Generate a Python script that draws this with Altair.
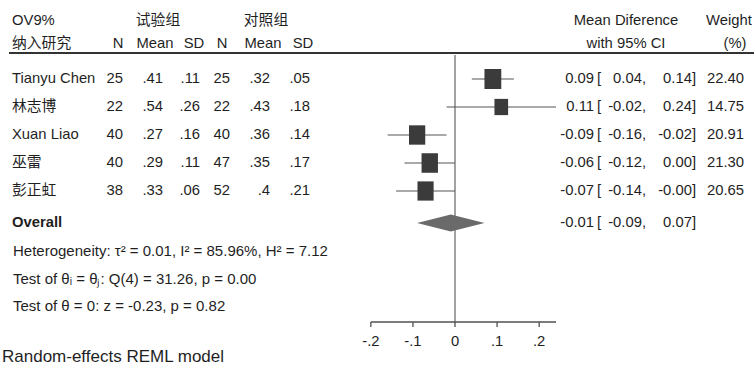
import altair as alt
import pandas as pd

# ---------------- data ----------------
studies = ["Tianyu Chen", "林志博", "Xuan Liao", "巫雷", "彭正虹"]
n_trt = [25, 22, 40, 40, 38]
mean_trt = [0.41, 0.54, 0.27, 0.29, 0.33]
sd_trt = [0.11, 0.26, 0.16, 0.11, 0.06]
n_ctl = [25, 22, 40, 47, 52]
mean_ctl = [0.32, 0.43, 0.36, 0.35, 0.4]
sd_ctl = [0.05, 0.18, 0.14, 0.17, 0.21]
md = [0.09, 0.11, -0.09, -0.06, -0.07]
ci_lo = [0.04, -0.02, -0.16, -0.12, -0.14]
ci_hi = [0.14, 0.24, -0.02, 0.00, -0.0]
weights = [22.40, 14.75, 20.91, 21.30, 20.65]
overall = {"md": -0.01, "lo": -0.09, "hi": 0.07}
ticks = [-0.2, -0.1, 0, 0.1, 0.2]
tick_labels = ["-.2", "-.1", "0", ".1", ".2"]
stats_lines = [
    "Heterogeneity: τ² = 0.01, I² = 85.96%, H² = 7.12",
    "Test of θᵢ = θⱼ: Q(4) = 31.26, p = 0.00",
    "Test of θ = 0: z = -0.23, p = 0.82",
]
note = "Random-effects REML model"

# ---------------- layout ----------------
W, H = 754, 376
PX0, PXU = 455.0, 420.75          # pixel of 0 and pixels per unit
RY0, RYU = 51.0, 28.0             # pixel of row 0 and pixels per row
xdom = [(0 - PX0) / PXU, (W - PX0) / PXU]
ydom = [(0 - RY0) / RYU, (H - RY0) / RYU]
def row_of(px):
    return (px - RY0) / RYU

FONT = "Liberation Sans, Arial, Noto Sans CJK SC"
TXT = "#1f1f1f"
FS = 14.8

xs = alt.Scale(domain=xdom, range=[0, W], nice=False, zero=False)
ys = alt.Scale(domain=ydom, range=[0, H], nice=False, zero=False)

def fmt_s(v):
    s = str(v)
    return s[1:] if s.startswith("0.") else s

rows = list(range(1, len(studies) + 1))
df = pd.DataFrame({
    "row": rows,
    "study": studies,
    "n1": [str(v) for v in n_trt],
    "m1": [fmt_s(v) for v in mean_trt],
    "s1": [fmt_s(v) for v in sd_trt],
    "n2": [str(v) for v in n_ctl],
    "m2": [fmt_s(v) for v in mean_ctl],
    "s2": [fmt_s(v) for v in sd_ctl],
    "md": md,
    "lo": ci_lo,
    "hi": ci_hi,
    "w": weights,
    "est_t": [f"{v:.2f}" for v in md],
    "lo_t": [f"{v:.2f}," for v in ci_lo],
    "hi_t": [f"{v:.2f}]" for v in ci_hi],
    "w_t": [f"{v:.2f}" for v in weights],
})

ov_row = row_of(223)
ov_df = pd.DataFrame({
    "row": [ov_row],
    "label": ["Overall"],
    "est_t": [f"{overall['md']:.2f}"],
    "lo_t": [f"{overall['lo']:.2f},"],
    "hi_t": [f"{overall['hi']:.2f}]"],
})

def text_layer(data, field, x, align, row_field="row", fs=FS, weight="normal", font=FONT):
    return alt.Chart(data).mark_text(
        align=align, baseline="middle", font=font, fontSize=fs,
        fontWeight=weight, color=TXT
    ).encode(
        x=alt.value(x),
        y=alt.Y(f"{row_field}:Q", scale=ys, axis=None),
        text=f"{field}:N",
    )

layers = []

# header
hdr = [
    (row_of(21), "OV9%", 12, "left"),
    (row_of(21), "试验组", 158, "center"),
    (row_of(21), "对照组", 266, "center"),
    (row_of(21), "Mean Diference", 626, "center"),
    (row_of(21), "Weight", 729, "center"),
    (row_of(44), "纳入研究", 12, "left"),
    (row_of(44), "N", 118, "center"),
    (row_of(44), "Mean", 155, "center"),
    (row_of(44), "SD", 194, "center"),
    (row_of(44), "N", 222, "center"),
    (row_of(44), "Mean", 263, "center"),
    (row_of(44), "SD", 303, "center"),
    (row_of(44), "with 95% CI", 626, "center"),
    (row_of(44), "(%)", 735, "center"),
]
for r, t, x, a in hdr:
    layers.append(text_layer(pd.DataFrame({"row": [r], "t": [t]}), "t", x, a))

layers.append(alt.Chart(pd.DataFrame({"a": [0]})).mark_rule(color="#333333", strokeWidth=2).encode(
    x=alt.value(9), x2=alt.value(W), y=alt.value(53)))

# zero line
layers.append(alt.Chart(pd.DataFrame({"v": [0]})).mark_rule(color="#707070", strokeWidth=1.3).encode(
    x=alt.X("v:Q", scale=xs, axis=None), y=alt.value(55), y2=alt.value(322)))

# axis line
ax_lo = min(min(ticks), min(ci_lo))
ax_hi = max(max(ticks), max(ci_hi))
layers.append(alt.Chart(pd.DataFrame({"a": [ax_lo], "b": [ax_hi]})).mark_rule(color="#505050", strokeWidth=1.3).encode(
    x=alt.X("a:Q", scale=xs, axis=None), x2="b:Q", y=alt.value(322)))
tdf = pd.DataFrame({"v": ticks, "lab": tick_labels})
layers.append(alt.Chart(tdf).mark_rule(color="#505050", strokeWidth=1.3).encode(
    x=alt.X("v:Q", scale=xs, axis=None), y=alt.value(322), y2=alt.value(327)))
layers.append(alt.Chart(tdf).mark_text(font=FONT, fontSize=FS, color=TXT, baseline="middle").encode(
    x=alt.X("v:Q", scale=xs, axis=None), y=alt.value(342), text="lab:N"))

# CI lines
layers.append(alt.Chart(df).mark_rule(color="#555555", strokeWidth=1.2).encode(
    x=alt.X("lo:Q", scale=xs, axis=None), x2="hi:Q",
    y=alt.Y("row:Q", scale=ys, axis=None)))
# squares (slightly taller than wide, as in the reference)
box = "M-0.84,-1L0.84,-1L0.84,1L-0.84,1Z"
layers.append(alt.Chart(df).mark_point(shape=box, filled=True, opacity=1, color="#3b3b3b").encode(
    x=alt.X("md:Q", scale=xs, axis=None),
    y=alt.Y("row:Q", scale=ys, axis=None),
    size=alt.Size("w:Q", scale=alt.Scale(domain=[0, 25], range=[0, 25 * 17.9]), legend=None)))

# diamond
hh = 8.5 / RYU
dia = pd.DataFrame({
    "x": [overall["lo"], overall["md"], overall["hi"]],
    "y": [ov_row, ov_row - hh, ov_row],
    "y2": [ov_row, ov_row + hh, ov_row],
})
layers.append(alt.Chart(dia).mark_area(color="#6a6a6a", opacity=1).encode(
    x=alt.X("x:Q", scale=xs, axis=None),
    y=alt.Y("y:Q", scale=ys, axis=None), y2="y2:Q"))

# study table text
layers.append(text_layer(df, "study", 12, "left"))
for f, xx in [("n1", 123), ("m1", 163), ("s1", 200), ("n2", 230), ("m2", 270), ("s2", 310)]:
    layers.append(text_layer(df, f, xx, "right"))
for d in (df, ov_df):
    layers.append(text_layer(d, "est_t", 594, "right"))
    layers.append(text_layer(d.assign(b="["), "b", 597, "left"))
    layers.append(text_layer(d, "lo_t", 646, "right"))
    layers.append(text_layer(d, "hi_t", 696, "right"))
layers.append(text_layer(df, "w_t", 744, "right"))
layers.append(text_layer(ov_df, "label", 12, "left", weight="bold"))

# stats lines
st = pd.DataFrame({"row": [row_of(251), row_of(279), row_of(306)], "t": stats_lines})
layers.append(text_layer(st, "t", 13, "left", fs=15))
layers.append(text_layer(pd.DataFrame({"row": [row_of(357)], "t": [note]}), "t", 2, "left", fs=17))

chart = alt.layer(*layers).properties(
    width=W, height=H, padding=0, autosize=alt.AutoSizeParams(type="none"),
    background="white"
).configure_view(stroke=None)

chart.save("out.html", embed_options={"renderer": "svg", "actions": False})
